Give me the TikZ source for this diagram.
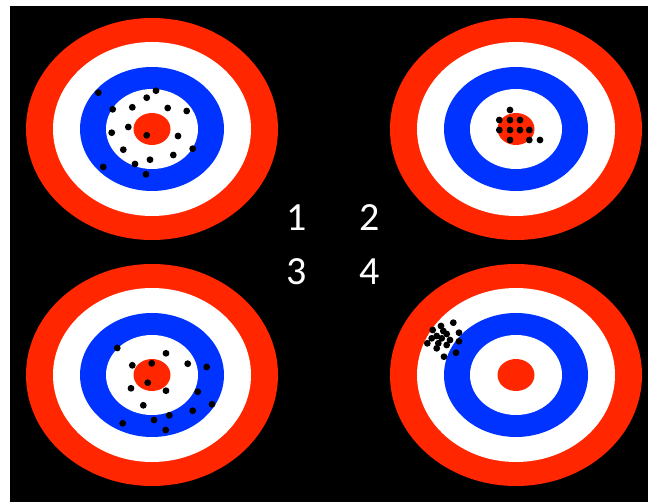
\documentclass[tikz,border=0pt]{standalone}
\usepackage{fontspec}
\setmainfont{Carlito}
\definecolor{tred}{RGB}{255,38,0}
\definecolor{tblue}{RGB}{0,51,255}
\tikzset{
  hole/.style={fill=black},
  numlabel/.style={text=white, font=\fontsize{40}{40}\selectfont, inner sep=0pt, anchor=center},
  target/.pic={
    \fill[tred]  (0,0) ellipse [x radius=126pt, y radius=111pt];
    \fill[white] (0,0) ellipse [x radius=99pt,  y radius=87pt];
    \fill[tblue] (0,0) ellipse [x radius=72pt,  y radius=62pt];
    \fill[white] (0,0) ellipse [x radius=46pt,  y radius=40pt];
    \fill[tred]  (0,0) ellipse [x radius=18.5pt,y radius=16pt];
  }
}
\newcommand\holes[1]{\foreach \hx/\hy in {#1}{\fill[hole] (\hx,\hy) circle [radius=3.4pt];}}
\begin{document}
\begin{tikzpicture}[x=1pt,y=-1pt]
\useasboundingbox (0,0) rectangle (648,502);
\fill[white] (0,0) rectangle (648,502);
\fill[black] (10,6) rectangle (648,502);
\pic at (152,129) {target};
\pic at (516,129) {target};
\pic at (152,375) {target};
\pic at (516,375) {target};
% target 1 holes
\holes{98.3/92.7,156/90.7,146.7/97.7,112.7/109.3,132.3/107.3,167.7/108,186.7/111,128.3/127,111.7/132.7,146.7/135.3,178/136,192.7/148.7,123.3/149.7,150/159.7,173.3/155,135/164,103.3/167,146/174.3}
% target 2 holes
\holes{510/110,499.3/120,510/120,520/120,499.3/130,510/130,520/130,529.3/130,510/140,529.3/140,540/140}
% target 3 holes
\holes{117.3/348,166/353.3,132.3/365.3,151.7/363.3,187.7/363.7,206.7/367,147.7/382.7,131/388.3,166/390.7,197.7/391.7,143.3/405.3,212/404.3,192.7/410.7,169.3/415.3,154/420,122.7/423.3,165.7/430}
% target 4 holes
\holes{453.3/322.7,441/326,432.7/330,443.3/331,459/332.7,446.7/334,436.7/336,431.7/338.3,441.7/338.3,450/340,459/341.3,427.3/343.3,438.3/343.3,446.7/345,436.7/348.3,456/352.7,444/356.7}
\node[numlabel] (n1) at (297,218) {1};
\node[numlabel] (n2) at (370,218) {2};
\node[numlabel] (n3) at (297,272) {3};
\node[numlabel] (n4) at (370,272) {4};
\end{tikzpicture}
\end{document}
